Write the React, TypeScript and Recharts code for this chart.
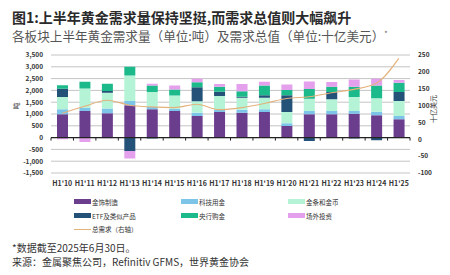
import React from 'react';
import { ComposedChart, Bar, Line, XAxis, YAxis, CartesianGrid, ReferenceLine } from 'recharts';

const CATEGORIES = ["H1'10", "H1'11", "H1'12", "H1'13", "H1'14", "H1'15", "H1'16", "H1'17", "H1'18", "H1'19", "H1'20", "H1'21", "H1'22", "H1'23", "H1'24", "H1'25"];

// tonnes
const JEWELLERY = [985, 1125, 1028, 1366, 1197, 1125, 915, 1085, 1057, 1085, 491, 985, 985, 1014, 943, 774];
const TECHNOLOGY = [212, 145, 200, 183, 115, 100, 140, 110, 127, 113, 113, 142, 142, 113, 156, 141];
const BAR_COIN = [520, 815, 676, 1087, 620, 560, 490, 566, 508, 494, 481, 523, 493, 592, 564, 634];
const ETF = [355, 0, 70, -567, -40, 0, 590, 185, 40, 98, 705, -144, 310, -40, -115, 381];
const CENTRAL_BANKS = [150, 284, 311, 367, 280, 250, 210, 212, 230, 422, 225, 410, 227, 438, 549, 396];
const OTC = [-70, -185, -30, -321, 70, 170, 145, 110, 310, 157, 240, 320, 196, 309, 285, 111];
// US$bn
const TOTAL_VALUE = [77, 98, 116, 101, 96, 94, 104, 88, 94, 106, 121, 126, 138, 148, 166, 240];

const LEFT_TICKS = [-1500, -1000, -500, 0, 500, 1000, 1500, 2000, 2500, 3000, 3500];
const RIGHT_TICKS = [-100, -50, 0, 50, 100, 150, 200, 250];

const SERIES = [
  { key: 'jewellery', name: '金饰制造', color: '#6a3d8d', values: JEWELLERY },
  { key: 'tech', name: '科技用金', color: '#7dc4e9', values: TECHNOLOGY },
  { key: 'barcoin', name: '金条和金币', color: '#b5f3d7', values: BAR_COIN },
  { key: 'etf', name: 'ETF及类似产品', color: '#245178', values: ETF },
  { key: 'cb', name: '央行购金', color: '#1cba8b', values: CENTRAL_BANKS },
  { key: 'otc', name: '场外投资', color: '#e4a0ec', values: OTC },
];

const LINE_COLOR = '#e3b27c';
const FONT = '"Noto Sans CJK SC", "Noto Sans", sans-serif';

const data = CATEGORIES.map((cat, i) => {
  const row: Record<string, any> = { cat, total: TOTAL_VALUE[i] };
  SERIES.forEach(s => { row[s.key] = s.values[i]; });
  return row;
});

// zero line with small tick marks between categories
const ZeroAxis = (props: any) => {
  const { x1, y1, x2 } = props;
  const step = (x2 - x1) / CATEGORIES.length;
  const ticks = [];
  for (let i = 0; i <= CATEGORIES.length; i++) {
    ticks.push(<line key={i} x1={x1 + step * i} x2={x1 + step * i} y1={y1} y2={y1 + 3} stroke="#222" strokeWidth={1} />);
  }
  return (
    <g>
      <line x1={x1} x2={x2} y1={y1} y2={y1} stroke="#222" strokeWidth={1.2} />
      {ticks}
    </g>
  );
};

const legendRows = [
  [SERIES[0], SERIES[1], SERIES[2]],
  [SERIES[3], SERIES[4], SERIES[5]],
];
const legendCols = [74, 181, 288];
const legendRowY = [201.7, 215.7];

const tickStyle = { fontSize: 6.5, fontWeight: 700, fill: '#333', fontFamily: FONT };

export default function App() {
  return (
    <div style={{ position: 'absolute', left: 0, top: 0, width: 450, height: 275, background: '#fff', fontFamily: FONT, overflow: 'hidden' }}>
      <div style={{ position: 'absolute', left: 12, top: 9.5, fontSize: 14, fontWeight: 700, color: '#2a2a2a', whiteSpace: 'nowrap', lineHeight: '14px' }}>
        图1:上半年黄金需求量保持坚挺,而需求总值则大幅飙升
      </div>
      <div style={{ position: 'absolute', left: 12, top: 26.5, fontSize: 12.6, color: '#555', whiteSpace: 'nowrap', lineHeight: '13px' }}>
        各板块上半年黄金需求量（单位:吨）及需求总值（单位:十亿美元）<sup style={{ fontSize: 7 }}>*</sup>
      </div>

      <div style={{ position: 'absolute', left: 0, top: 0 }}>
        <ComposedChart width={450} height={195} data={data} stackOffset="sign" barSize={11}
          margin={{ top: 55, right: 0, bottom: 2, left: 0 }}>
          <CartesianGrid yAxisId="left" vertical={false} stroke="#c4c4c4" strokeWidth={1} />
          <XAxis dataKey="cat" interval={0} height={20} axisLine={false} tickLine={false}
            tick={{ fontSize: 7, fontWeight: 700, fill: '#333', fontFamily: FONT }} />
          <YAxis yAxisId="left" width={51} domain={[-1500, 3500]} allowDataOverflow ticks={LEFT_TICKS} interval={0}
            axisLine={false} tickLine={false} tick={tickStyle}
            tickFormatter={(v) => Number(v).toLocaleString('en-US')} />
          <YAxis yAxisId="right" orientation="right" width={40} domain={[-100, 250]} allowDataOverflow ticks={RIGHT_TICKS} interval={0}
            axisLine={false} tickLine={false} tick={tickStyle} />
          {SERIES.map(s => (
            <Bar key={s.key} yAxisId="left" dataKey={s.key} stackId="a" fill={s.color} isAnimationActive={false} />
          ))}
          <ReferenceLine yAxisId="left" y={0} shape={ZeroAxis} />
          <Line yAxisId="right" type="monotone" dataKey="total" stroke={LINE_COLOR} strokeWidth={1.1} dot={false} isAnimationActive={false} />
        </ComposedChart>
      </div>

      <div style={{ position: 'absolute', left: 10, top: 101, width: 12, textAlign: 'center', fontSize: 7, color: '#333', transform: 'rotate(-90deg)' }}>吨</div>
      <div style={{ position: 'absolute', left: 413, top: 104, width: 40, textAlign: 'center', fontSize: 7, color: '#333', transform: 'rotate(-90deg)', whiteSpace: 'nowrap' }}>十亿美元</div>

      {legendRows.map((row, r) => row.map((s, c) => (
        <div key={s.key} style={{ position: 'absolute', left: legendCols[c], top: legendRowY[r] - 5, height: 10, display: 'flex', alignItems: 'center', fontSize: 6.5, color: '#333', whiteSpace: 'nowrap' }}>
          <span style={{ display: 'inline-block', width: 17, height: 5, background: s.color, marginRight: 1 }} />
          {s.name}
        </div>
      )))}
      <div style={{ position: 'absolute', left: legendCols[0], top: 229.3 - 5, height: 10, display: 'flex', alignItems: 'center', fontSize: 6.5, color: '#333', whiteSpace: 'nowrap' }}>
        <span style={{ display: 'inline-block', width: 17, height: 1, background: LINE_COLOR, marginRight: 1 }} />
        总需求（右轴）
      </div>

      <div style={{ position: 'absolute', left: 12, top: 240, fontSize: 10, color: '#333', whiteSpace: 'nowrap', lineHeight: '15px' }}>
        *数据截至2025年6月30日。
      </div>
      <div style={{ position: 'absolute', left: 12, top: 254, fontSize: 10, color: '#333', whiteSpace: 'nowrap', lineHeight: '15px' }}>
        来源：金属聚焦公司，Refinitiv GFMS，世界黄金协会
      </div>
    </div>
  );
}
